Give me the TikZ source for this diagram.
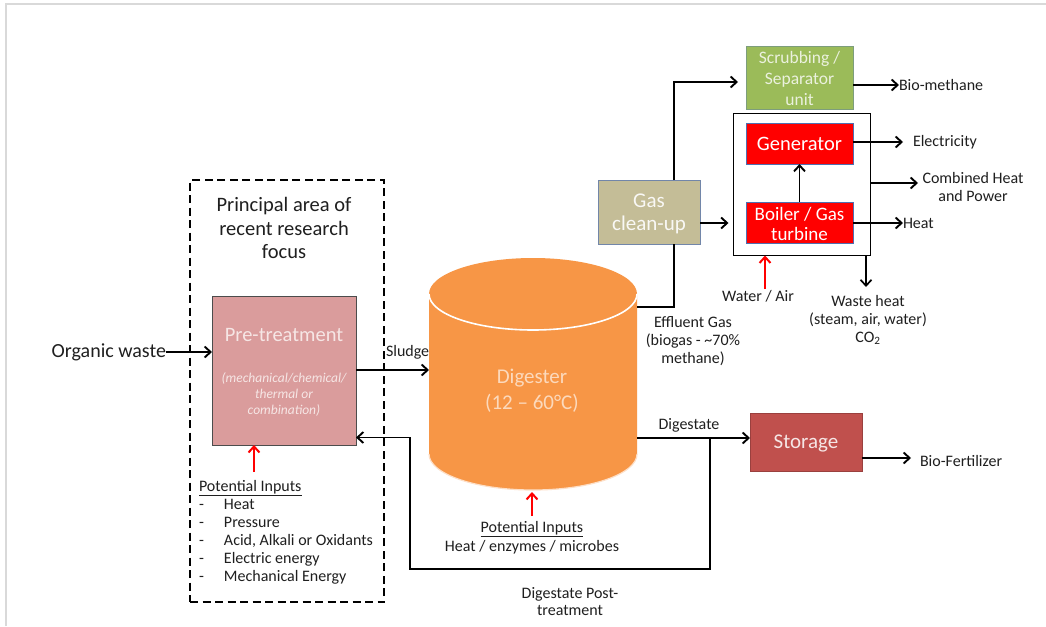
\documentclass[tikz,border=0pt]{standalone}
\usepackage{fontspec}
\setmainfont{Carlito}
\usetikzlibrary{arrows.meta,calc}
\definecolor{frameGray}{HTML}{D9D9D9}
\definecolor{preFill}{HTML}{DA9C9C}
\definecolor{preText}{HTML}{F6E6E5}
\definecolor{digFill}{HTML}{F79646}
\definecolor{digText}{HTML}{FCD9BC}
\definecolor{gasFill}{HTML}{C4BD97}
\definecolor{scrubFill}{HTML}{9BBB59}
\definecolor{scrubText}{HTML}{EBF1DE}
\definecolor{chpRed}{HTML}{FF0000}
\definecolor{storeFill}{HTML}{C0504D}
\definecolor{blueEdge}{HTML}{4F6FB0}
\definecolor{txt}{HTML}{1F1F1F}
% font size and baseline skip, both in pt
\newcommand{\fs}[2]{\fontsize{#1}{#2}\selectfont}
\begin{document}
\begin{tikzpicture}[x=1pt,y=-1pt,
  every node/.style={inner sep=0pt, outer sep=0pt, text=txt, align=center},
  unitbox/.style={draw=#1, line width=0.8pt},
  tip/.style={-{Straight Barb[length=6pt,width=11pt]}},
  conn/.style={line width=1.9pt, tip},
  plain/.style={line width=1.9pt},
  feed/.style={draw=red, line width=2pt, tip},
  lbl/.style={font=\fs{16}{18}}]
\useasboundingbox (0,0) rectangle (1046,626);
\fill[white] (0,0) rectangle (1046,626);
\draw[frameGray, line width=2pt] (6,626) -- (6,4) -- (1046,4);

% research focus area
\node[draw, line width=2pt, dash pattern=on 8pt off 4.5pt,
      minimum width=194pt, minimum height=422pt] (focus) at (287,391) {};
\node[font=\fs{20.5}{23.5}] (focustitle) at (284,228)
  {Principal area of\\recent research\\focus};

% pre-treatment
\node[unitbox=gray!60!black, fill=preFill, minimum width=144pt, minimum height=149pt] (pre) at (284,370.5) {};
\node[font=\fs{20.5}{24}, text=preText] (pretitle) at (284,335) {Pre-treatment};
\node[font=\fs{13.5}{16}\itshape, text=preText] (prenote) at (284,394)
  {(mechanical/chemical/\\thermal or\\combination)};

\node[lbl, anchor=north west, align=left] (preinputs) at (199,480)
  {\underline{Potential Inputs}\\
   \makebox[25pt][l]{-}Heat\\
   \makebox[25pt][l]{-}Pressure\\
   \makebox[25pt][l]{-}Acid, Alkali or Oxidants\\
   \makebox[25pt][l]{-}Electric energy\\
   \makebox[25pt][l]{-}Mechanical Energy};
\coordinate (prefeed) at (254,472);
\draw[feed] (prefeed) -- (prefeed |- pre.south);

\node[font=\fs{20}{24}, anchor=east] (organic) at (166,352) {Organic waste};
\draw[conn] (organic.east) -- (organic.east -| pre.west);

% digester cylinder (y axis points down, so angle 90 is the lower side)
\node[minimum width=208pt, minimum height=232pt] (dig) at (533,374) {};
\fill[digFill] (429,294) -- (429,454) arc[start angle=180, end angle=0, x radius=104, y radius=36]
  -- (637,294) arc[start angle=0, end angle=-180, x radius=104, y radius=36] -- cycle;
\draw[white, line width=1.6pt] (429,294) arc[start angle=180, end angle=0, x radius=104, y radius=36];
\draw[white!70!digFill, line width=1.2pt] (429,454) arc[start angle=180, end angle=0, x radius=104, y radius=36];
\node[font=\fs{21}{26}, text=digText] (digtitle) at (532,391) {Digester\\(12 – 60°C)};

\coordinate (sludgein) at (dig.west |- 0,370);
\draw[conn] (pre.east |- sludgein) -- (sludgein);
\node[lbl, anchor=west] (sludge) at (386,352) {Sludge};

\coordinate (digfeed) at (532,516);
\draw[feed] (digfeed) -- (532,492);
\node[font=\fs{16}{19}] (diginputs) at (532,537.5) {\underline{Potential Inputs}\\Heat / enzymes / microbes};

% digestate line, storage and return loop
\node[unitbox=storeFill!80!black, fill=storeFill, minimum width=112pt, minimum height=58pt] (store) at (806,442) {};
\node[font=\fs{21}{24}, text=preText] (storetitle) at (806,443) {Storage};
\coordinate (digout) at (dig.east |- 0,438);
\draw[conn] (digout) -- (digout -| store.west);
\node[lbl] (digestate) at (689,425) {Digestate};
\coordinate (junc) at (710,438);
\coordinate (retcorner) at (410,569);
\draw[conn] (junc) |- (retcorner) |- ([yshift=-67pt]pre.east);
\node[font=\fs{16}{17}] (post) at (570,601.5) {Digestate Post-\\treatment};

\node[lbl, anchor=west] (fert) at (920,461) {Bio-Fertilizer};
\draw[conn] (store.east |- 0,458) -- (911,458);

% gas route
\node[unitbox=blueEdge!70!gasFill, fill=gasFill, minimum width=102pt, minimum height=64pt] (gas) at (649,212) {};
\node[font=\fs{21}{23}, text=white!90!gasFill] (gastitle) at (649,213.5) {Gas\\clean-up};
\coordinate (gasin) at ([xshift=25pt]gas.south);
\draw[plain] (dig.east |- 0,307) -| (gasin);
\node[lbl] (effluent) at (693,341) {Effluent Gas\\(biogas - \textasciitilde70\%\\methane)};

\node[unitbox=blueEdge!40!scrubFill, fill=scrubFill, minimum width=107pt, minimum height=63pt] (scrub) at (799.5,77.5) {};
\node[font=\fs{17.5}{21}, text=scrubText] (scrubtitle) at (799.5,78) {Scrubbing /\\Separator\\unit};
\draw[conn] ([xshift=25pt]gas.north) |- ([xshift=-8pt]scrub.west |- 0,82);
\node[lbl, anchor=west] (biomethane) at (899,85) {Bio-methane};
\draw[conn] (scrub.east |- 0,85) -- (biomethane.west);

% combined heat and power block
\node[draw, line width=1.7pt, minimum width=137pt, minimum height=142pt] (chp) at (802,184.5) {};
\node[unitbox=blueEdge, fill=chpRed, minimum width=107pt, minimum height=41pt] (gen) at (799.5,143.5) {};
\node[font=\fs{20.5}{24}, text=white] (gentitle) at (799.5,144) {Generator};
\node[unitbox=blueEdge, fill=chpRed, minimum width=107pt, minimum height=41pt] (boil) at (799.5,222.5) {};
\node[font=\fs{19}{20}, text=white] (boiltitle) at (799.5,223.5) {Boiler / Gas\\turbine};
\draw[conn] (boil.north) -- (gen.south);
\draw[conn] (gas.east |- 0,223) -- ([xshift=-5pt]chp.west |- 0,223);

\node[lbl, anchor=west] (elec) at (913,142) {Electricity};
\draw[conn] (gen.east |- elec) -- ([xshift=-10pt]elec.west);
\node[lbl] (combined) at (973,187) {Combined Heat\\and Power};
\draw[conn] (chp.east |- 0,183) -- (918,183);
\node[lbl, anchor=west] (heat) at (903,223) {Heat};
\draw[conn] (boil.east |- heat) -- (heat.west);

\coordinate (chpfeed) at (765,289);
\draw[feed] (chpfeed) -- (chpfeed |- chp.south);
\node[lbl] (waterair) at (758,296) {Water / Air};
\coordinate (wasteout) at (866,287);
\draw[line width=1.7pt, tip] (wasteout |- chp.south) -- (wasteout);
\node[lbl] (waste) at (868,320) {Waste heat\\(steam, air, water)\\CO\textsubscript{2}};
\end{tikzpicture}
\end{document}
